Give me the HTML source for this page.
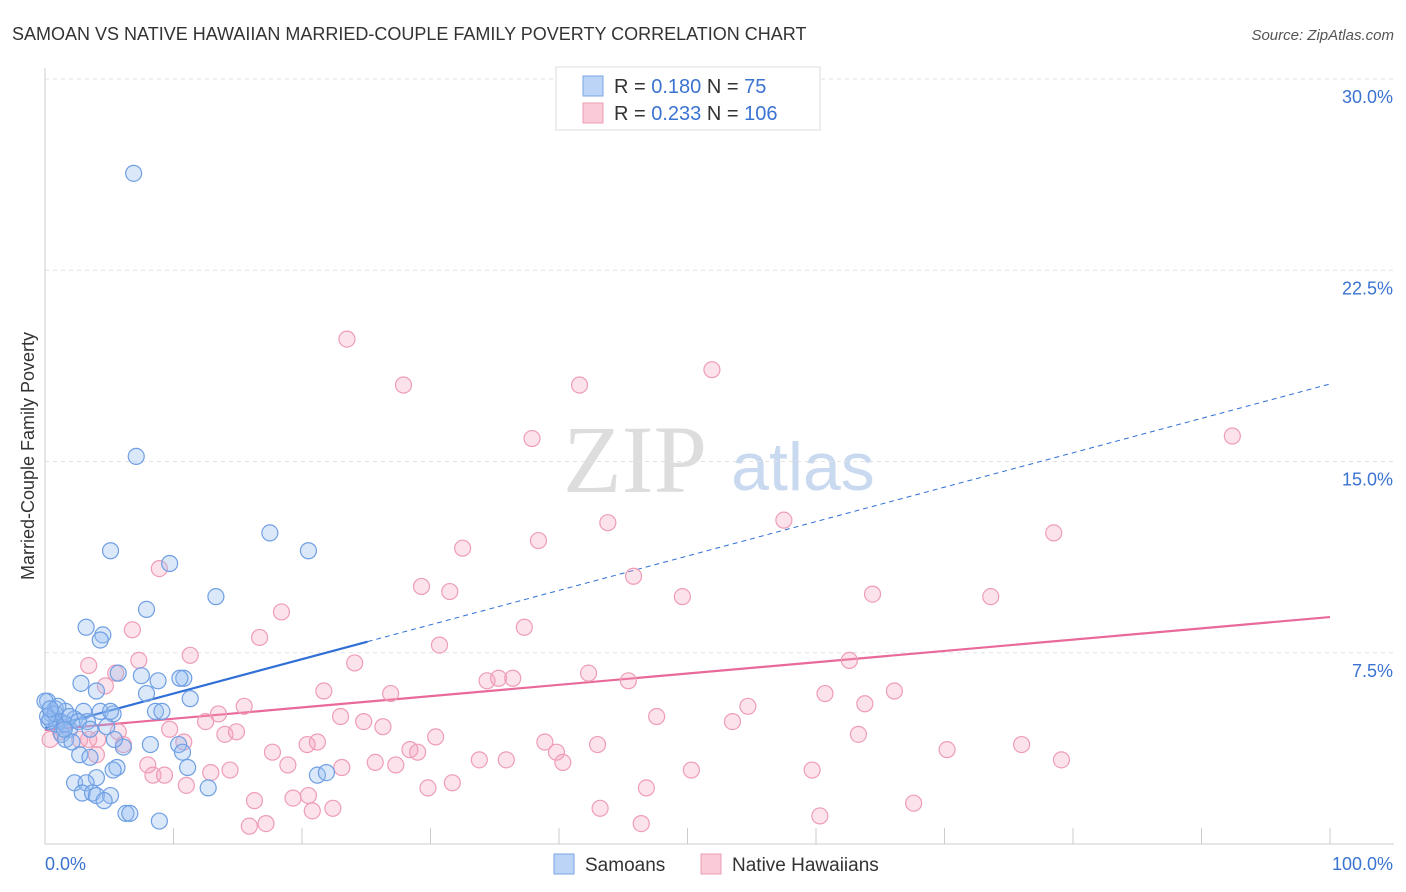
<!DOCTYPE html>
<html><head><meta charset="utf-8">
<style>
body{margin:0;background:#fff;font-family:"Liberation Sans",sans-serif;}
#wrap{position:relative;width:1406px;height:892px;overflow:hidden;}
</style></head>
<body>
<div id="wrap">
<svg id="chart" width="1406" height="892" xmlns="http://www.w3.org/2000/svg" font-family="Liberation Sans, sans-serif">
<text x="12" y="40" font-size="18" fill="#333">SAMOAN VS NATIVE HAWAIIAN MARRIED-COUPLE FAMILY POVERTY CORRELATION CHART</text>
<text x="1394" y="40" font-size="15" fill="#555" font-style="italic" text-anchor="end">Source: ZipAtlas.com</text>
<text x="34" y="456" font-size="18" fill="#333" text-anchor="middle" transform="rotate(-90 34 456)">Married-Couple Family Poverty</text>
<g>
<text x="635" y="492" font-size="96" fill="#ddd" text-anchor="middle" font-family="Liberation Serif, serif">ZIP</text>
<text x="803" y="490" font-size="68" fill="#c9d9ef" text-anchor="middle">atlas</text>
</g>
<g id="grid"></g>
<g id="axes"></g>
<g id="lines"></g>
<g id="pts"></g>
<g>
<rect x="556" y="67" width="264" height="63" fill="#fff" stroke="#ddd"/>
<rect x="583" y="76" width="20" height="20" fill="#bcd4f5" stroke="#7aa6e6"/>
<rect x="583" y="103" width="20" height="20" fill="#f9cad8" stroke="#ee9db5"/>
<text x="614" y="93" font-size="20" fill="#333">R = <tspan fill="#3b73d1">0.180</tspan>   N =   <tspan fill="#3b73d1">75</tspan></text>
<text x="614" y="120" font-size="20" fill="#333">R = <tspan fill="#3b73d1">0.233</tspan>   N = <tspan fill="#3b73d1">106</tspan></text>
</g>
<g>
<rect x="554" y="854" width="20" height="20" fill="#bcd4f5" stroke="#7aa6e6"/>
<text x="585" y="871" font-size="19" fill="#333">Samoans</text>
<rect x="701" y="854" width="20" height="20" fill="#f9cad8" stroke="#ee9db5"/>
<text x="732" y="871" font-size="19" fill="#333">Native Hawaiians</text>
</g>
</svg>
</div>
<script>
const yTicks=[0,7.5,15,22.5,30];
const yTickLabels=["","7.5%","15.0%","22.5%","30.0%"];
const xTicks=[0,10,20,30,40,50,60,70,80,90,100];
const xEndLabels=["0.0%","100.0%"];
const samoanX=[6.9,7.1,5.1,9.7,17.5,20.5,7.9,13.3,3.2,4.5,4.3,5.7,7.5,8.8,10.8,10.5,2.8,4.0,7.9,11.3,0.2,0.8,1.6,3.0,4.3,5.3,8.6,9.1,0.4,1.2,2.3,4.8,1.9,1.3,1.6,2.1,6.1,8.2,10.4,10.7,2.7,3.5,11.1,5.6,5.3,4.0,21.2,21.9,2.3,3.2,2.9,3.7,4.0,5.1,4.6,12.7,6.3,6.6,8.9,0.5,0.9,1.6,0.3,0.0,5.1,3.3,0.8,0.2,1.0,1.9,2.6,0.4,1.5,3.5,5.4];
const samoanY=[26.3,15.2,11.5,11.0,12.2,11.5,9.2,9.7,8.5,8.2,8.0,6.7,6.6,6.4,6.5,6.5,6.3,6.0,5.9,5.7,5.6,5.3,5.2,5.2,5.2,5.1,5.2,5.2,4.9,4.8,4.9,4.6,4.5,4.3,4.1,4.0,3.8,3.9,3.9,3.6,3.5,3.4,3.0,3.0,2.9,2.6,2.7,2.8,2.4,2.4,2.0,2.0,1.9,1.9,1.7,2.2,1.2,1.2,0.9,5.1,4.7,4.7,4.8,5.6,5.2,4.8,5.1,5.0,5.4,5.0,4.8,5.3,4.5,4.5,4.1];
const hawaiianX=[23.5,27.9,41.6,51.9,37.9,92.4,43.8,57.5,78.5,38.4,32.5,45.8,8.9,29.3,31.5,49.6,64.4,73.6,18.4,6.8,37.3,16.7,30.7,11.3,7.3,3.4,24.1,62.6,5.5,42.3,4.7,34.4,35.3,36.4,45.4,21.7,26.9,60.7,66.1,15.5,63.8,54.7,13.5,23.0,47.6,12.5,24.8,26.3,53.5,9.7,14.0,14.9,21.2,4.1,6.1,10.8,20.4,30.4,63.3,28.4,29.0,38.9,39.8,43.0,76.0,70.2,17.7,8.0,25.7,33.8,35.9,40.3,79.1,18.9,14.4,23.1,27.3,8.4,9.3,12.9,11.0,50.3,59.7,31.7,29.8,46.8,19.3,20.5,16.3,22.4,20.8,43.2,67.6,60.3,15.9,17.2,46.4,3.4,1.2,2.7,0.4,5.7,4.0];
const hawaiianY=[19.8,18.0,18.0,18.6,15.9,16.0,12.6,12.7,12.2,11.9,11.6,10.5,10.8,10.1,9.9,9.7,9.8,9.7,9.1,8.4,8.5,8.1,7.8,7.4,7.2,7.0,7.1,7.2,6.7,6.7,6.2,6.4,6.5,6.5,6.4,6.0,5.9,5.9,6.0,5.4,5.5,5.4,5.1,5.0,5.0,4.8,4.8,4.6,4.8,4.5,4.3,4.4,4.0,4.1,3.9,4.0,3.9,4.2,4.3,3.7,3.6,4.0,3.6,3.9,3.9,3.7,3.6,3.1,3.2,3.3,3.3,3.2,3.3,3.1,2.9,3.0,3.1,2.7,2.7,2.8,2.3,2.9,2.9,2.4,2.2,2.2,1.8,1.9,1.7,1.4,1.3,1.4,1.6,1.1,0.7,0.8,0.8,4.1,4.4,4.1,4.1,4.4,3.5];
const samoanLine=[4.55,18.04,25.1];
const hawaiianLine=[4.47,8.9];
const X=v=>45+v*12.85, Y=v=>844-v*25.5;
const NS="http://www.w3.org/2000/svg";
function mk(t,a,p){const e=document.createElementNS(NS,t);for(const k in a)e.setAttribute(k,a[k]);p.appendChild(e);return e;}
const grid=document.getElementById('grid'),axes=document.getElementById('axes'),lines=document.getElementById('lines'),pts=document.getElementById('pts');
yTicks.forEach((t,i)=>{
 if(t>0){const l=mk('line',{x1:45,x2:1394,y1:Y(t),y2:Y(t),stroke:'#e2e2e2','stroke-dasharray':'4,4'},grid);
 
 }
 const tx=mk('text',{x:1393,y:Y(t)+24,'font-size':18,fill:'#3b73d1','text-anchor':'end'},axes);tx.textContent=yTickLabels[i];
 
 
});
const ax=mk('line',{x1:45,x2:1394,y1:844,y2:844,stroke:'#ccc'},axes);


const ay=mk('line',{x1:45,x2:45,y1:68,y2:844,stroke:'#ccc'},axes);


xTicks.forEach(t=>{const l=mk('line',{x1:X(t),x2:X(t),y1:828,y2:844,stroke:'#ccc'},axes);
 
 });
[[0,'start'],[100,'end']].forEach((p,i)=>{const tx=mk('text',{x:i?1393:45,y:870,'font-size':18,fill:'#3b73d1','text-anchor':p[1]},axes);tx.textContent=xEndLabels[i];
 
 });
hawaiianX.forEach((x,i)=>{const c=mk('circle',{cx:X(x),cy:Y(hawaiianY[i]),r:8,fill:'rgba(244,160,188,0.3)',stroke:'#ee9db5','stroke-width':1.2},pts);
 
 });
samoanX.forEach((x,i)=>{const c=mk('circle',{cx:X(x),cy:Y(samoanY[i]),r:8,fill:'rgba(150,188,240,0.35)',stroke:'#6f9fe3','stroke-width':1.2},pts);
 
 });
const bs=(v)=>samoanLine[0]+(samoanLine[1]-samoanLine[0])*v/100;
const l1=mk('line',{x1:X(0),y1:Y(bs(0)),x2:X(samoanLine[2]),y2:Y(bs(samoanLine[2])),stroke:'#2f6fd6','stroke-width':2.2},lines);


const l2=mk('line',{x1:X(samoanLine[2]),y1:Y(bs(samoanLine[2])),x2:X(100),y2:Y(bs(100)),stroke:'#2f6fd6','stroke-width':1,'stroke-dasharray':'5,4'},lines);


const l3=mk('line',{x1:X(0),y1:Y(hawaiianLine[0]),x2:X(100),y2:Y(hawaiianLine[1]),stroke:'#e8699a','stroke-width':2.2},lines);


</script>
</body></html>
